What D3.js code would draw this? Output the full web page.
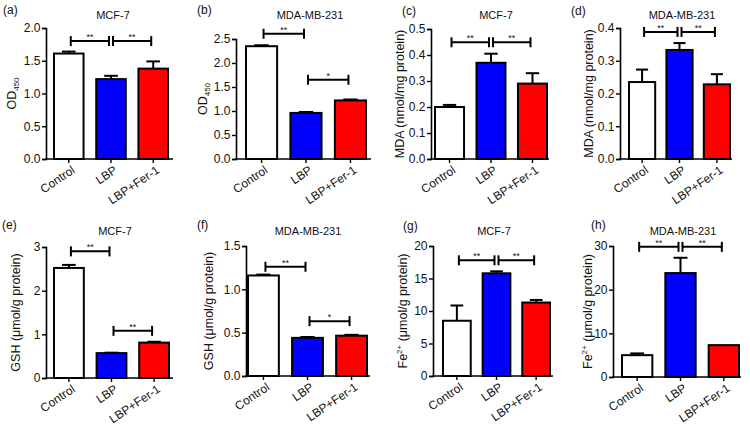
<!DOCTYPE html>
<html>
<head>
<meta charset="utf-8">
<script src="https://cdnjs.cloudflare.com/ajax/libs/d3/7.8.5/d3.min.js"></script>
<style>
body { margin: 0; background: #fff; }
text { font-family: "Liberation Sans", Arial, sans-serif; fill: #111; }
</style>
</head>
<body>
<script>
// groups shared by all panels
const groups = ["Control", "LBP", "LBP+Fer-1"];
const fills = ["#ffffff", "#0000ff", "#ff0000"];

// (a) OD450, MCF-7
const odMcf7 = [1.61, 1.22, 1.38];
const odMcf7Err = [0.03, 0.05, 0.11];
const odMcf7Ticks = [0, 0.5, 1.0, 1.5, 2.0];
const odMcf7Sig = [[0, 1, 1.80, "**"], [1, 2, 1.80, "**"]];

// (b) OD450, MDA-MB-231
const odMda = [2.35, 0.96, 1.22];
const odMdaErr = [0.02, 0.02, 0.02];
const odMdaTicks = [0, 0.5, 1.0, 1.5, 2.0, 2.5];
const odMdaSig = [[0, 1, 2.61, "**"], [1, 2, 1.65, "*"]];

// (c) MDA, MCF-7
const mdaMcf7 = [0.20, 0.37, 0.29];
const mdaMcf7Err = [0.008, 0.035, 0.04];
const mdaMcf7Ticks = [0, 0.1, 0.2, 0.3, 0.4, 0.5];
const mdaMcf7Sig = [[0, 1, 0.449, "**"], [1, 2, 0.449, "**"]];

// (d) MDA, MDA-MB-231
const mdaMda = [0.235, 0.333, 0.228];
const mdaMdaErr = [0.038, 0.021, 0.031];
const mdaMdaTicks = [0, 0.1, 0.2, 0.3, 0.4];
const mdaMdaSig = [[0, 1, 0.388, "**"], [1, 2, 0.388, "**"]];

// (e) GSH, MCF-7
const gshMcf7 = [2.52, 0.57, 0.81];
const gshMcf7Err = [0.07, 0.01, 0.02];
const gshMcf7Ticks = [0, 1, 2, 3];
const gshMcf7Sig = [[0, 1, 2.90, "**"], [1, 2, 1.08, "**"]];

// (f) GSH, MDA-MB-231
const gshMda = [1.16, 0.44, 0.465];
const gshMdaErr = [0.01, 0.01, 0.01];
const gshMdaTicks = [0, 0.5, 1.0, 1.5];
const gshMdaSig = [[0, 1, 1.26, "**"], [1, 2, 0.633, "*"]];

// (g) Fe2+, MCF-7
const feMcf7 = [8.5, 15.8, 11.3];
const feMcf7Err = [2.35, 0.3, 0.4];
const feMcf7Ticks = [0, 5, 10, 15, 20];
const feMcf7Sig = [[0, 1, 17.8, "**"], [1, 2, 17.8, "**"]];

// (h) Fe2+, MDA-MB-231
const feMda = [5.0, 23.8, 7.3];
const feMdaErr = [0.4, 3.5, 0];
const feMdaTicks = [0, 10, 20, 30];
const feMdaSig = [[0, 1, 29.8, "**"], [1, 2, 29.8, "**"]];

// panel layout: ax = y axis x, x0/x1 = bar span, xe = x axis end
const panels = [
    { tag: "(a)", title: "MCF-7", kind: "od", v: odMcf7, e: odMcf7Err, ticks: odMcf7Ticks, fmt: ".1f", sig: odMcf7Sig,
      ax: 46, x0: 54, x1: 168, xe: 173, top: 28, bottom: 159, lx: 12, tx: 113, ty: 19, px: 3, py: 14 },
    { tag: "(b)", title: "MDA-MB-231", kind: "od", v: odMda, e: odMdaErr, ticks: odMdaTicks, fmt: ".1f", sig: odMdaSig,
      ax: 236, x0: 246, x1: 366, xe: 371, top: 39, bottom: 159, lx: 203, tx: 310, ty: 19, px: 197, py: 14 },
    { tag: "(c)", title: "MCF-7", kind: "mda", v: mdaMcf7, e: mdaMcf7Err, ticks: mdaMcf7Ticks, fmt: ".1f", sig: mdaMcf7Sig,
      ax: 431, x0: 435, x1: 547, xe: 549, top: 29, bottom: 159, lx: 400, tx: 496, ty: 19, px: 402, py: 15 },
    { tag: "(d)", title: "MDA-MB-231", kind: "mda", v: mdaMda, e: mdaMdaErr, ticks: mdaMdaTicks, fmt: ".1f", sig: mdaMdaSig,
      ax: 620, x0: 629, x1: 730, xe: 732, top: 28, bottom: 159, lx: 589, tx: 682, ty: 19, px: 571, py: 15 },
    { tag: "(e)", title: "MCF-7", kind: "gsh", v: gshMcf7, e: gshMcf7Err, ticks: gshMcf7Ticks, fmt: "d", sig: gshMcf7Sig,
      ax: 46, x0: 54, x1: 169, xe: 173, top: 247, bottom: 378, lx: 16, tx: 115, ty: 235, px: 2, py: 229 },
    { tag: "(f)", title: "MDA-MB-231", kind: "gsh", v: gshMda, e: gshMdaErr, ticks: gshMdaTicks, fmt: ".1f", sig: gshMdaSig,
      ax: 246, x0: 248, x1: 367, xe: 370, top: 246, bottom: 376, lx: 209, tx: 308, ty: 235, px: 197, py: 229 },
    { tag: "(g)", title: "MCF-7", kind: "fe", v: feMcf7, e: feMcf7Err, ticks: feMcf7Ticks, fmt: "d", sig: feMcf7Sig,
      ax: 433, x0: 443, x1: 550, xe: 553, top: 246, bottom: 376, lx: 403, tx: 494, ty: 235, px: 403, py: 230 },
    { tag: "(h)", title: "MDA-MB-231", kind: "fe", v: feMda, e: feMdaErr, ticks: feMdaTicks, fmt: "d", sig: feMdaSig,
      ax: 613, x0: 622, x1: 739, xe: 741, top: 246, bottom: 377, lx: 588, tx: 683, ty: 235, px: 591, py: 229 }
];

const svg = d3.select("body").append("svg")
    .attr("width", 750)
    .attr("height", 425);

svg.append("rect").attr("width", 750).attr("height", 425).attr("fill", "#fff");

function yLabel(g, p) {
    let t = g.append("text")
        .attr("transform", "translate(" + p.lx + "," + ((p.top + p.bottom) / 2) + ") rotate(-90)")
        .attr("text-anchor", "middle")
        .attr("dy", "0.35em")
        .style("font-size", "12.5px");
    if (p.kind == "od") {
        t.append("tspan").text("OD");
        t.append("tspan").text("450").style("font-size", "8px").attr("dy", 3);
    } else if (p.kind == "mda") {
        t.text("MDA (nmol/mg protein)");
    } else if (p.kind == "gsh") {
        t.text("GSH (\u03bcmol/g protein)");
    } else {
        t.append("tspan").text("Fe");
        t.append("tspan").text("2+").style("font-size", "8px").attr("dy", -5);
        t.append("tspan").text(" (\u03bcmol/g protein)").attr("dy", 5);
    }
}

panels.forEach(function (p) {
    let g = svg.append("g");

    let x = d3.scaleBand().domain(groups).range([p.x0, p.x1]).paddingInner(0.3).paddingOuter(0);
    let y = d3.scaleLinear().domain([0, d3.max(p.ticks)]).range([p.bottom, p.top]);
    let bw = x.bandwidth();
    let cx = d => x(d) + bw / 2;

    // panel tag and title
    g.append("text").attr("x", p.px).attr("y", p.py).text(p.tag).style("font-size", "12px");
    g.append("text").attr("x", p.tx).attr("y", p.ty).attr("text-anchor", "middle")
        .text(p.title).style("font-size", "11px");

    // error bars (upper only)
    groups.forEach(function (grp, i) {
        if (p.e[i] <= 0) return;
        g.append("line")
            .attr("x1", cx(grp)).attr("x2", cx(grp))
            .attr("y1", y(p.v[i])).attr("y2", y(p.v[i] + p.e[i]))
            .attr("stroke", "#000").attr("stroke-width", 2);
        g.append("line")
            .attr("x1", cx(grp) - bw * 0.23).attr("x2", cx(grp) + bw * 0.23)
            .attr("y1", y(p.v[i] + p.e[i])).attr("y2", y(p.v[i] + p.e[i]))
            .attr("stroke", "#000").attr("stroke-width", 2);
    });

    // bars
    g.selectAll(".bar").data(p.v).join("rect")
        .attr("x", (d, i) => x(groups[i]))
        .attr("y", d => y(d))
        .attr("width", bw)
        .attr("height", d => y(0) - y(d))
        .attr("fill", (d, i) => fills[i])
        .attr("stroke", "#000")
        .attr("stroke-width", 2);

    // y axis
    let yAxis = d3.axisLeft(y).tickValues(p.ticks).tickFormat(d3.format(p.fmt)).tickSizeOuter(0).tickSize(4).tickPadding(1.5);
    let ya = g.append("g").attr("transform", "translate(" + p.ax + ",0)").call(yAxis);
    ya.select(".domain").attr("stroke-width", 1.6);
    ya.selectAll(".tick line").attr("stroke-width", 1.4);
    ya.selectAll(".tick text").style("font-size", "12px").attr("fill", "#111");

    // x axis line and ticks
    g.append("line")
        .attr("x1", p.ax - 0.8).attr("x2", p.xe)
        .attr("y1", p.bottom).attr("y2", p.bottom)
        .attr("stroke", "#000").attr("stroke-width", 1.6);
    groups.forEach(function (grp) {
        g.append("line")
            .attr("x1", cx(grp)).attr("x2", cx(grp))
            .attr("y1", p.bottom).attr("y2", p.bottom + 4)
            .attr("stroke", "#000").attr("stroke-width", 1.4);
        g.append("text")
            .attr("transform", "translate(" + (cx(grp) + 7) + "," + (p.bottom + 13) + ") rotate(-34)")
            .attr("text-anchor", "end")
            .style("font-size", "12px")
            .text(grp);
    });

    // significance brackets
    p.sig.forEach(function (s) {
        let xa = cx(groups[s[0]]) + 2, xb = cx(groups[s[1]]) - 2, yy = y(s[2]);
        g.append("line").attr("x1", xa).attr("x2", xb).attr("y1", yy).attr("y2", yy)
            .attr("stroke", "#000").attr("stroke-width", 2);
        [xa, xb].forEach(function (xx) {
            g.append("line").attr("x1", xx).attr("x2", xx).attr("y1", yy - 5).attr("y2", yy + 5)
                .attr("stroke", "#000").attr("stroke-width", 2);
        });
        g.append("text").attr("x", (xa + xb) / 2).attr("y", yy - 1)
            .attr("text-anchor", "middle").style("font-size", "9px").attr("fill", "#333")
            .text(s[3]);
    });

    yLabel(g, p);
});
</script>
</body>
</html>
